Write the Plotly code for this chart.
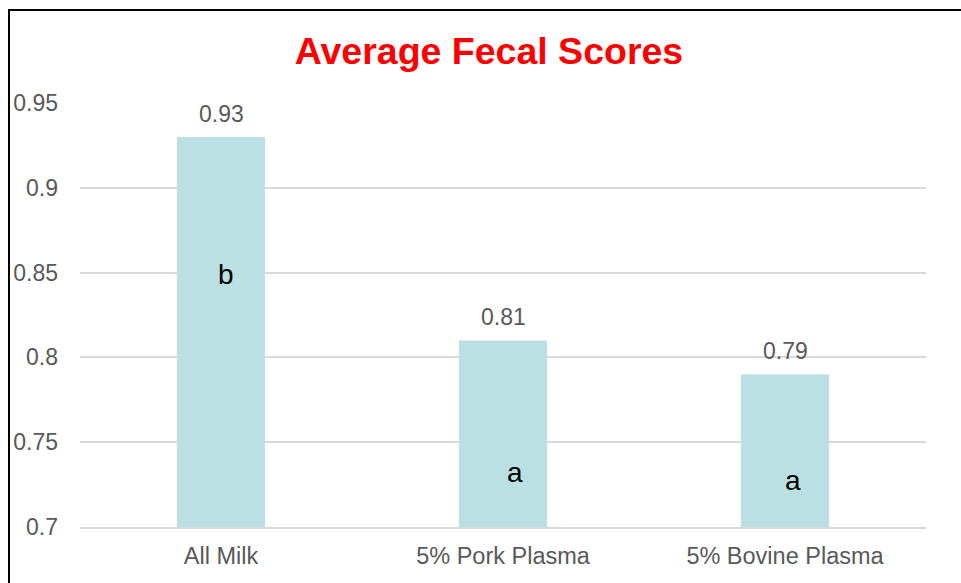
import plotly.graph_objects as go

# Data
categories = ["All Milk", "5% Pork Plasma", "5% Bovine Plasma"]
fecal_scores = [0.93, 0.81, 0.79]
sig_letters = ["b", "a", "a"]
sig_letter_y = [0.849, 0.7324, 0.7277]
sig_letter_xshift = [5, 12, 8]
y_tickvals = [0.7, 0.75, 0.8, 0.85, 0.9, 0.95]
y_ticktext = ["0.7", "0.75", "0.8", "0.85", "0.9", "0.95"]

FONT = "Arial, Liberation Sans, sans-serif"
GREY = "#595959"
GRID = "#D9D9D9"
BAR = "#BAE0E3"

fig = go.Figure(
    go.Bar(
        x=categories,
        y=fecal_scores,
        marker=dict(color=BAR, line=dict(width=0)),
        width=0.312,
        hoverinfo="x+y",
    )
)

annotations = []
# value labels above bars
for c, v in zip(categories, fecal_scores):
    annotations.append(dict(
        x=c, y=v, xref="x", yref="y", text=f"{v:.2f}", showarrow=False,
        yanchor="bottom", yshift=8,
        font=dict(family=FONT, size=23, color=GREY),
    ))
# significance letters inside bars
for c, t, ly, dx in zip(categories, sig_letters, sig_letter_y, sig_letter_xshift):
    annotations.append(dict(
        x=c, y=ly, xref="x", yref="y", text=t, showarrow=False,
        yanchor="middle", xshift=dx,
        font=dict(family=FONT, size=28, color="black"),
    ))

fig.update_layout(
    width=961, height=583,
    margin=dict(l=80, r=35, t=103, b=56),
    paper_bgcolor="white", plot_bgcolor="white",
    showlegend=False,
    title=dict(
        text="<b>Average Fecal Scores</b>",
        x=489 / 961, xanchor="center", xref="container",
        y=1 - 51 / 583, yanchor="middle", yref="container",
        font=dict(family=FONT, size=37.5, color="#FF0000"),
    ),
    annotations=annotations,
    shapes=[
        # chart frame (top and left edges)
        dict(type="line", xref="paper", yref="paper",
             x0=(8 - 80) / 846, x1=1.1, y0=(527 - 10) / 424, y1=(527 - 10) / 424,
             line=dict(color="black", width=2)),
        dict(type="line", xref="paper", yref="paper",
             x0=(9 - 80) / 846, x1=(9 - 80) / 846, y0=-0.2, y1=(527 - 9) / 424,
             line=dict(color="black", width=2)),
    ],
)

fig.update_xaxes(
    showgrid=False, showline=True, linecolor=GRID, linewidth=1.5,
    ticks="", tickfont=dict(family=FONT, size=23.5, color=GREY),
    ticklabelstandoff=7,
)
fig.update_yaxes(
    range=[0.7, 0.95], tickvals=y_tickvals, ticktext=y_ticktext,
    showgrid=True, gridcolor=GRID, gridwidth=1.5, zeroline=False,
    ticks="", tickfont=dict(family=FONT, size=23, color=GREY),
    ticklabelstandoff=21,
)

fig.write_html("out.html")
